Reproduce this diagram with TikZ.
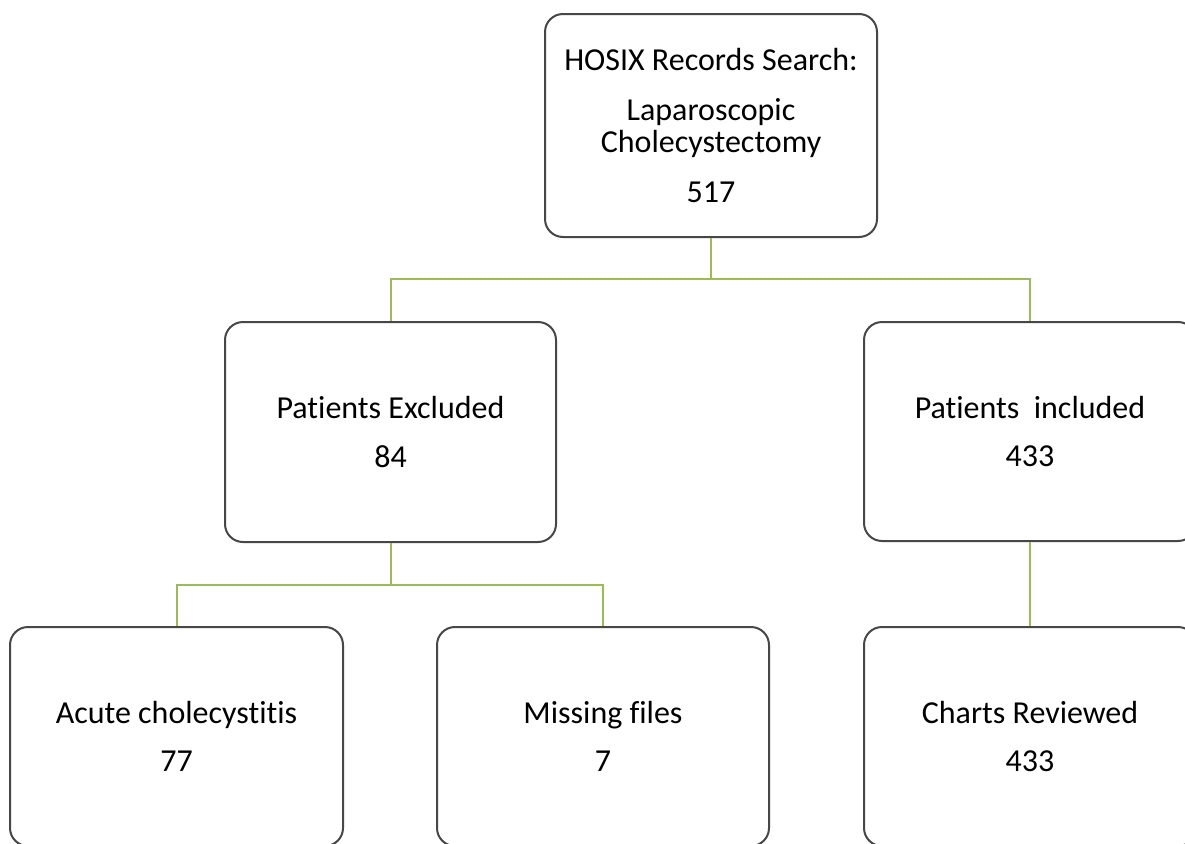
\documentclass[tikz,border=0pt]{standalone}
\usepackage{fontspec}
\setmainfont{Carlito}[Ligatures=NoCommon]
\begin{document}
\begin{tikzpicture}[x=0.75pt,y=-0.75pt,
  box/.style={draw=black!72, line width=1.5pt, rounded corners=13.5pt, fill=white,
    align=center, inner sep=0pt,
    font=\fontsize{24pt}{24pt}\selectfont},
  conn/.style={draw={rgb,255:red,155;green,187;blue,89}, line width=1.5pt}]
\clip (0,0) rectangle (1185,843);
\useasboundingbox (0,0) rectangle (1185,843);
\fill[white] (0,0) rectangle (1185,843);

\node[box, minimum width=249pt, minimum height=167.25pt] (top) at (711,125.5)
  {HOSIX Records Search:\\[13.5pt]Laparoscopic\\Cholecystectomy\\[13.5pt]517};
\node[box, minimum width=248.25pt, minimum height=165pt] (excl) at (390.5,432)
  {Patients Excluded\\[12pt]84};
\node[box, minimum width=249pt, minimum height=164.25pt] (incl) at (1030,431.5)
  {Patients~~included\\[12pt]433};
\node[box, minimum width=249.75pt, minimum height=164.25pt] (acute) at (176.5,736.5)
  {Acute cholecystitis\\[12pt]77};
\node[box, minimum width=249pt, minimum height=164.25pt] (missing) at (603,736.5)
  {Missing files\\[12pt]7};
\node[box, minimum width=249pt, minimum height=164.25pt] (charts) at (1030,736.5)
  {Charts Reviewed\\[12pt]433};

\coordinate (j1) at (711,279);
\coordinate (j2) at (390.5,585);
\draw[conn] (top.south) -- (j1);
\draw[conn] (excl.north) |- (j1) -| (incl.north);
\draw[conn] (excl.south) -- (j2);
\draw[conn] (acute.north) |- (j2) -| (missing.north);
\draw[conn] (incl.south) -- (charts.north);
\end{tikzpicture}
\end{document}
